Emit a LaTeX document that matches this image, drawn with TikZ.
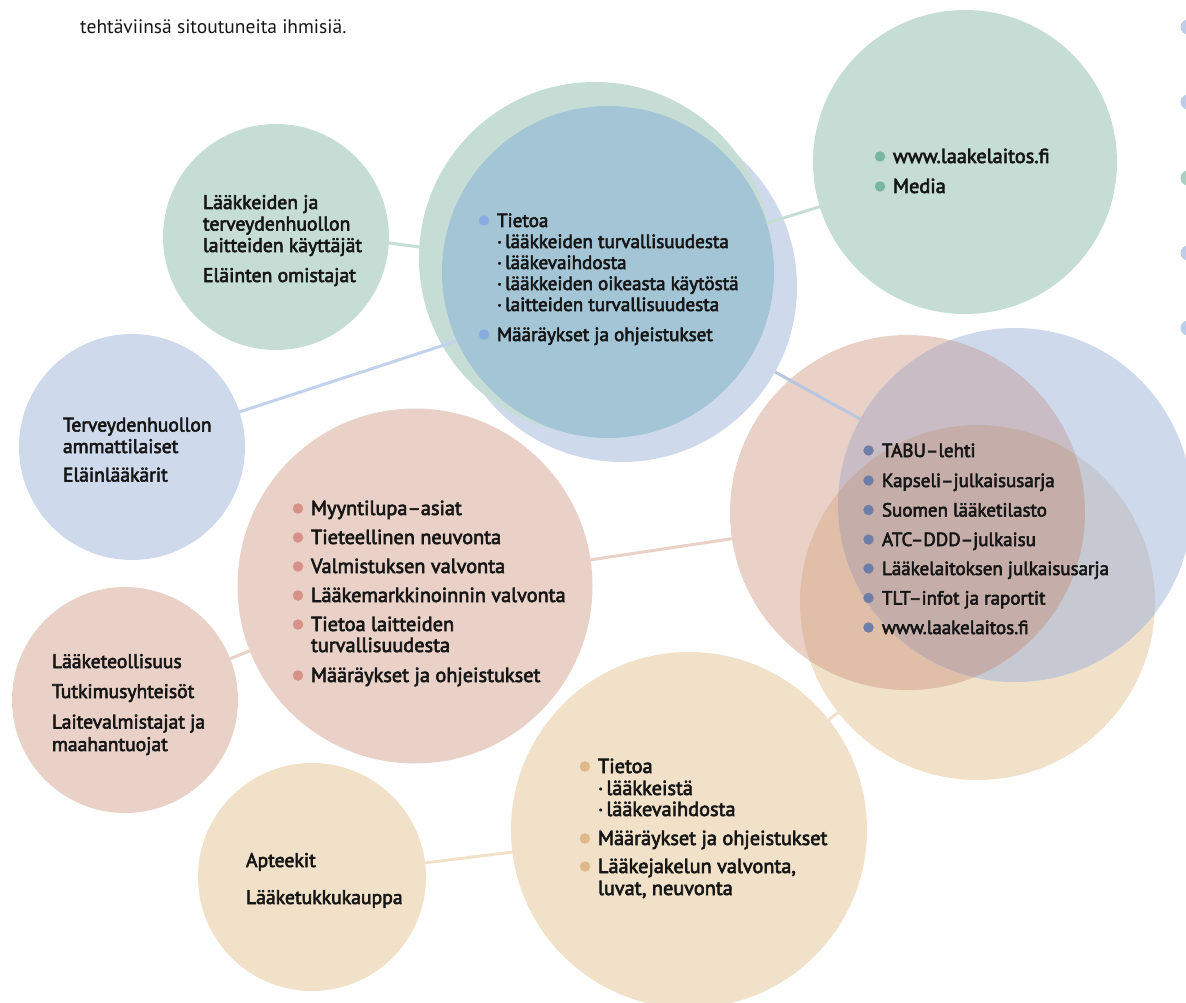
\documentclass[tikz,border=0pt]{standalone}
\usepackage{fontspec}
\setmainfont{PT Sans}
\newfontfamily\diafont[FakeBold=3]{PT Sans}
\pgfdeclarelayer{lay1}
\pgfdeclarelayer{lay2}
\pgfdeclarelayer{lay3}
\pgfdeclarelayer{lay4}
\pgfdeclarelayer{lay5}
\pgfsetlayers{lay1,lay2,lay3,lay4,lay5,main}

\definecolor{cgreen}{HTML}{C6DDD5}
\definecolor{clav}{HTML}{CEDAEC}
\definecolor{cteal}{HTML}{A3C5D5}
\definecolor{cpink}{HTML}{E9D1C7}
\definecolor{cbeige}{HTML}{F1E1C9}
\definecolor{cmauve}{HTML}{CABCC4}
\definecolor{ctan}{HTML}{E1BEA8}
\definecolor{cgrey}{HTML}{C6C9D1}
\definecolor{ccore}{HTML}{C5AEA9}
\definecolor{bblue}{HTML}{8AABDD}
\definecolor{bgreen}{HTML}{79B6A2}
\definecolor{bpink}{HTML}{D79288}
\definecolor{bslate}{HTML}{6F7EA6}
\definecolor{bbeige}{HTML}{DFBA88}
\definecolor{lblue}{HTML}{C3D2EC}
\definecolor{lblue2}{HTML}{B8C6E2}
\definecolor{edgeblue}{HTML}{BCCDE9}
\definecolor{edgegreen}{HTML}{A9D0C2}
\definecolor{ink}{HTML}{161616}

\newcommand\subdot{·\hspace{3pt}}

\tikzset{
  disc/.style={circle, inner sep=0pt, outer sep=0pt, draw=none, fill=#1},
  lbl/.style={anchor=base west, inner sep=0pt, outer sep=0pt, text=ink,
    font=\diafont\fontsize{#1}{21.5}\selectfont},
  lbl/.default=20.3,
  bdot/.style={circle, inner sep=0pt, outer sep=0pt, minimum size=10.5pt, fill=#1},
  conn/.style={line width=3pt, draw=#1},
}

\begin{document}
\begin{tikzpicture}[x=1pt,y=-1pt]
\useasboundingbox (0,0) rectangle (1186,1003);
\clip (0,0) rectangle (1186,1003);

% ---------- back circles of right cluster ----------
\begin{pgfonlayer}{lay2}
  \node[disc=cbeige, minimum size=355pt] (BeR) at (977.5,602.5) {};
  \node[disc=cpink, minimum size=355pt] (PR) at (907.5,512.5) {};
  \begin{scope}
    \clip (PR.center) circle (177.5pt);
    \fill[ctan] (BeR.center) circle (177.5pt);
  \end{scope}
\end{pgfonlayer}

% ---------- lavender + green of the top cluster ----------
\begin{pgfonlayer}{lay4}
  \node[disc=clav, minimum size=350pt] (lav) at (622,287) {};
  \node[disc=cgreen, minimum size=352pt] (gB) at (595,258) {};
\end{pgfonlayer}

% ---------- main circles ----------
\node[disc=cteal, minimum size=332pt] (teal) at (608,272) {};
\node[disc=clav, minimum size=354pt] (BR) at (1015,505) {};
\begin{scope}
  \clip (BR.center) circle (177pt);
  \fill[cmauve] (PR.center) circle (177.5pt);
  \fill[cgrey] (BeR.center) circle (177.5pt);
  \clip (PR.center) circle (177.5pt);
  \fill[ccore] (BeR.center) circle (177.5pt);
\end{scope}

\node[disc=cgreen, minimum size=304pt] (tg) at (965,162) {};
\node[disc=cgreen, minimum size=226pt] (gL) at (276,237) {};
\node[disc=clav, minimum size=226pt] (bL) at (132,447) {};
\node[disc=cpink, minimum size=226pt] (pL) at (125,700) {};
\node[disc=cbeige, minimum size=228pt] (beL) at (312,877) {};
\node[disc=cpink, minimum size=355pt] (pM) at (415,586) {};
\node[disc=cbeige, minimum size=356pt] (beM) at (689,830) {};

% ---------- right edge dots ----------
\node[disc=edgeblue, minimum size=15pt] (e1) at (1188,27) {};
\node[disc=edgeblue, minimum size=15pt] (e2) at (1188,102) {};
\node[disc=edgegreen, minimum size=15pt] (e3) at (1188,178) {};
\node[disc=edgeblue, minimum size=15pt] (e4) at (1188,253) {};
\node[disc=edgeblue, minimum size=15pt] (e5) at (1188,328) {};

% ---------- connectors ----------
\begin{pgfonlayer}{lay1}
  \draw[conn=cpink] (pL) -- (pM);
  \draw[conn=cpink] (pM) -- (PR);
  \draw[conn=cbeige] (beL) -- (beM);
  \draw[conn=cbeige] (beM) -- (BeR);
\end{pgfonlayer}
\begin{pgfonlayer}{lay3}
  \draw[conn=lblue2] (lav.center) -- (BR.center);
\end{pgfonlayer}
\begin{pgfonlayer}{lay5}
  \draw[conn=lblue] (bL.center) -- (lav.center);
  \draw[conn=cgreen] (gL.-3) -- (teal.center);
  \draw[conn=cgreen] (teal.center) -- (tg.center);
\end{pgfonlayer}

% ---------- top text ----------
\node[anchor=base west, inner sep=0pt, text=ink, font=\fontsize{19.5}{22}\selectfont] (top) at (80,34) {tehtäviinsä sitoutuneita ihmisiä.};

% ---------- green left ----------
\node[lbl=19.7] (gl1) at (203,209) {Lääkkeiden ja};
\node[lbl=19.7] (gl2) at (203,230.5) {terveydenhuollon};
\node[lbl=19.7] (gl3) at (203,252) {laitteiden käyttäjät};
\node[lbl=19.7] (gl4) at (203,282) {Eläinten omistajat};

% ---------- blue left ----------
\node[lbl=19.6] (bl1) at (63,431.5) {Terveydenhuollon};
\node[lbl=19.6] (bl2) at (63,453) {ammattilaiset};
\node[lbl=19.6] (bl3) at (63,481.5) {Eläinlääkärit};

% ---------- pink left ----------
\node[lbl=19.6] (pl1) at (52,668) {Lääketeollisuus};
\node[lbl=19.6] (pl2) at (52,698) {Tutkimusyhteisöt};
\node[lbl=19.6] (pl3) at (52,728.5) {Laitevalmistajat ja};
\node[lbl=19.6] (pl4) at (52,751) {maahantuojat};

% ---------- beige left ----------
\node[lbl=19.7] (bel1) at (246,867) {Apteekit};
\node[lbl=19.7] (bel2) at (246,904) {Lääketukkukauppa};

% ---------- top right green ----------
\node[lbl] (tg1) at (893,163) {www.laakelaitos.fi};
\node[lbl] (tg2) at (893,193) {Media};
\node[bdot=bgreen] (tgb1) at ([xshift=-13pt,yshift=6.5pt]tg1.base west) {};
\node[bdot=bgreen] (tgb2) at ([xshift=-13pt,yshift=6.5pt]tg2.base west) {};

% ---------- teal ----------
\node[lbl=19.1] (ta1) at (497,227) {Tietoa};
\node[lbl=19.1] (ta2) at (497,248) {\subdot lääkkeiden turvallisuudesta};
\node[lbl=19.1] (ta3) at (497,269) {\subdot lääkevaihdosta};
\node[lbl=19.1] (ta4) at (497,290) {\subdot lääkkeiden oikeasta käytöstä};
\node[lbl=19.1] (ta5) at (497,311) {\subdot laitteiden turvallisuudesta};
\node[lbl=19.1] (ta6) at (497,341) {Määräykset ja ohjeistukset};
\node[bdot=bblue] (tab1) at ([xshift=-13pt,yshift=6.5pt]ta1.base west) {};
\node[bdot=bblue] (tab6) at ([xshift=-13pt,yshift=6.5pt]ta6.base west) {};

% ---------- pink middle ----------
\node[lbl] (pm1) at (311,515) {Myyntilupa–asiat};
\node[lbl] (pm2) at (311,544) {Tieteellinen neuvonta};
\node[lbl] (pm3) at (311,573) {Valmistuksen valvonta};
\node[lbl] (pm4) at (311,602) {Lääkemarkkinoinnin valvonta};
\node[lbl] (pm5) at (311,631) {Tietoa laitteiden};
\node[lbl] (pm6) at (311,652) {turvallisuudesta};
\node[lbl] (pm7) at (311,682) {Määräykset ja ohjeistukset};
\foreach \k in {1,2,3,4,5,7}
  \node[bdot=bpink] (pmb\k) at ([xshift=-13pt,yshift=6.5pt]pm\k.base west) {};

% ---------- right cluster ----------
\node[lbl=19] (rc1) at (882,457) {TABU–lehti};
\node[lbl=19] (rc2) at (882,487) {Kapseli–julkaisusarja};
\node[lbl=19] (rc3) at (882,516.5) {Suomen lääketilasto};
\node[lbl=19] (rc4) at (882,546) {ATC–DDD–julkaisu};
\node[lbl=19] (rc5) at (882,575) {Lääkelaitoksen julkaisusarja};
\node[lbl=19] (rc6) at (882,604.5) {TLT–infot ja raportit};
\node[lbl=19] (rc7) at (882,634) {www.laakelaitos.fi};
\foreach \k in {1,...,7}
  \node[bdot=bslate] (rcb\k) at ([xshift=-13.5pt,yshift=6.5pt]rc\k.base west) {};

% ---------- beige middle ----------
\node[lbl] (bm1) at (598,773) {Tietoa};
\node[lbl] (bm2) at (598,795) {\subdot lääkkeistä};
\node[lbl] (bm3) at (598,816) {\subdot lääkevaihdosta};
\node[lbl] (bm4) at (598,845) {Määräykset ja ohjeistukset};
\node[lbl] (bm5) at (598,873) {Lääkejakelun valvonta,};
\node[lbl] (bm6) at (598,895) {luvat, neuvonta};
\foreach \k in {1,4,5}
  \node[bdot=bbeige] (bmb\k) at ([xshift=-13pt,yshift=6.5pt]bm\k.base west) {};
\end{tikzpicture}
\end{document}
